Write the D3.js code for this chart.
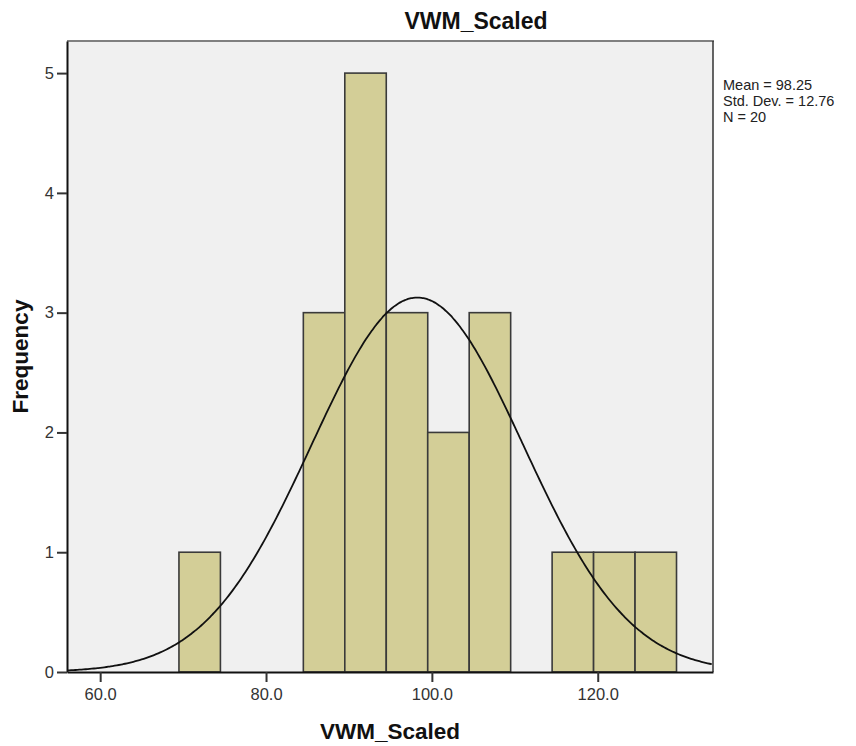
<!DOCTYPE html>
<html>
<head>
<meta charset="utf-8">
<script src="https://d3js.org/d3.v7.min.js"></script>
<style>
  html, body { margin: 0; padding: 0; background: #ffffff; }
  svg { display: block; font-family: "Liberation Sans", Arial, sans-serif; }
</style>
</head>
<body>
<svg id="chart" width="856" height="746"></svg>
<script>
// ---- data ----
const binStarts = [69.5, 84.5, 89.5, 94.5, 99.5, 104.5, 114.5, 119.5, 124.5];
const binEnds   = [74.5, 89.5, 94.5, 99.5, 104.5, 109.5, 119.5, 124.5, 129.5];
const counts    = [1, 3, 5, 3, 2, 3, 1, 1, 1];
const xTicks = [60, 80, 100, 120];
const yTicks = [0, 1, 2, 3, 4, 5];
const statMean = 98.25;
const statSD = 12.76;
const statN = 20;
const binWidth = 5;
const legendLines = ["Mean = 98.25", "Std. Dev. = 12.76", "N = 20"];
const titleText = "VWM_Scaled";
const xLabel = "VWM_Scaled";
const yLabel = "Frequency";

// ---- layout ----
const plot = { left: 67, top: 41, right: 713, bottom: 672 };
const svg = d3.select("#chart");

const x = d3.scaleLinear().domain([56.0, 133.9]).range([plot.left, plot.right]);
const y = d3.scaleLinear().domain([0, 5.268]).range([plot.bottom, plot.top]);

// background
svg.append("rect")
  .attr("x", plot.left).attr("y", plot.top)
  .attr("width", plot.right - plot.left).attr("height", plot.bottom - plot.top)
  .attr("fill", "#f0f0f0");

// bars
const bins = counts.map((c, i) => ({ x0: binStarts[i], x1: binEnds[i], c }));
svg.append("g").selectAll("rect").data(bins).join("rect")
  .attr("x", d => x(d.x0))
  .attr("y", d => y(d.c))
  .attr("width", d => x(d.x1) - x(d.x0))
  .attr("height", d => y(0) - y(d.c))
  .attr("fill", "#d3ce97")
  .attr("stroke", "#3a3a3a")
  .attr("stroke-width", 1.6);

// normal curve
const curvePts = d3.range(x.domain()[0], x.domain()[1] + 0.001, 0.25).map(v => {
  const z = (v - statMean) / statSD;
  const dens = Math.exp(-0.5 * z * z) / (statSD * Math.sqrt(2 * Math.PI));
  return [v, statN * binWidth * dens];
});
svg.append("path")
  .datum(curvePts)
  .attr("fill", "none")
  .attr("stroke", "#111")
  .attr("stroke-width", 1.8)
  .attr("d", d3.line().x(d => x(d[0])).y(d => y(d[1])).curve(d3.curveBasis));

// frame: top & right
svg.append("line").attr("x1", plot.left).attr("x2", plot.right + 1)
  .attr("y1", plot.top).attr("y2", plot.top)
  .attr("stroke", "#808080").attr("stroke-width", 2);
svg.append("line").attr("x1", plot.right).attr("x2", plot.right)
  .attr("y1", plot.top).attr("y2", plot.bottom)
  .attr("stroke", "#333").attr("stroke-width", 1.5);

// axes
const xAxis = d3.axisBottom(x).tickValues(xTicks).tickFormat(d3.format(".1f")).tickSize(10).tickSizeOuter(0);
const gx = svg.append("g").attr("transform", `translate(0,${plot.bottom})`).call(xAxis);
gx.select(".domain").attr("stroke", "#111").attr("stroke-width", 2);
gx.selectAll(".tick line").attr("stroke", "#333").attr("stroke-width", 2);
gx.selectAll(".tick text").attr("font-size", 16.5).attr("fill", "#333")
  .attr("font-family", "Liberation Sans, Arial, sans-serif").attr("dy", "0.9em");

const yAxis = d3.axisLeft(y).tickValues(yTicks).tickFormat(d3.format("d")).tickSize(10).tickSizeOuter(0);
const gy = svg.append("g").attr("transform", `translate(${plot.left},0)`).call(yAxis);
gy.select(".domain").attr("stroke", "#111").attr("stroke-width", 2);
gy.selectAll(".tick line").attr("stroke", "#333").attr("stroke-width", 2);
gy.selectAll(".tick text").attr("font-size", 16.5).attr("fill", "#333")
  .attr("font-family", "Liberation Sans, Arial, sans-serif");

// title
svg.append("text").attr("x", 476).attr("y", 29)
  .attr("text-anchor", "middle").attr("font-size", 23).attr("font-weight", "bold")
  .attr("fill", "#111").text(titleText);

// axis labels
svg.append("text").attr("x", (plot.left + plot.right) / 2).attr("y", 739)
  .attr("text-anchor", "middle").attr("font-size", 22.5).attr("font-weight", "bold")
  .attr("fill", "#111").text(xLabel);
svg.append("text")
  .attr("transform", `translate(28,${(plot.top + plot.bottom) / 2}) rotate(-90)`)
  .attr("text-anchor", "middle").attr("font-size", 22.5).attr("font-weight", "bold")
  .attr("fill", "#111").text(yLabel);

// stats legend
svg.append("g").selectAll("text").data(legendLines).join("text")
  .attr("x", 723).attr("y", (d, i) => 90 + i * 16)
  .attr("font-size", 14.5).attr("fill", "#222").text(d => d);
</script>
</body>
</html>
